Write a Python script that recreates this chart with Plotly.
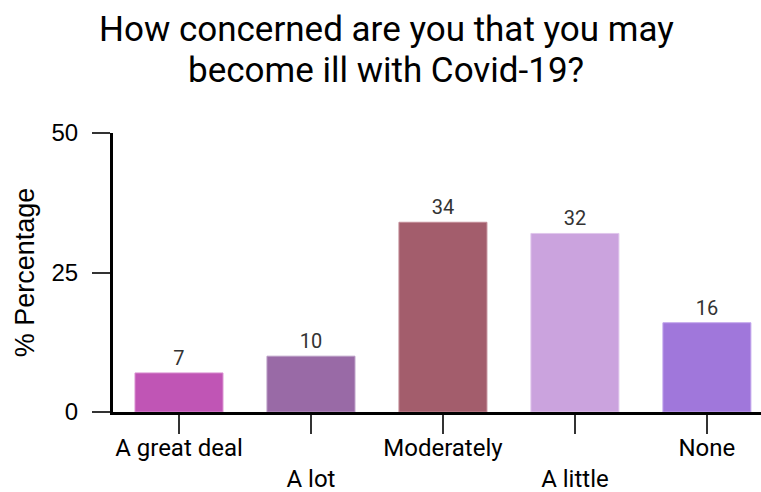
import plotly.graph_objects as go

# Survey responses
categories = ["A great deal", "A lot", "Moderately", "A little", "None"]
percentages = [7, 10, 34, 32, 16]
bar_colors = ["#C055B5", "#996AA6", "#A35D6C", "#CBA3DE", "#A077DB"]
edge_colors = ["#D98FD0", "#B99BC4", "#C38C97", "#E0C6EC", "#C2A6EC"]
# every second label is dropped to a second line to avoid overlap
tick_labels = ["A great deal", "<br>A lot", "Moderately", "<br>A little", "None"]
y_ticks = [0, 25, 50]
title_lines = ["How concerned are you that you may", "become ill with Covid-19?"]

W, H = 761, 492
M_LEFT, M_RIGHT, M_TOP, M_BOTTOM = 113, 0, 133, 80

fig = go.Figure(
    go.Bar(
        x=categories,
        y=percentages,
        marker=dict(color=bar_colors, line=dict(color=edge_colors, width=1)),
        text=[str(v) for v in percentages],
        textposition="outside",
        textfont=dict(family="Roboto", size=20, color="#333333"),
        cliponaxis=False,
    )
)

# two-line heading, one annotation per line (line centres at 29 px and 71 px from the top)
for i, line in enumerate(title_lines):
    fig.add_annotation(
        text=line,
        xref="paper",
        yref="paper",
        x=(386 - M_LEFT) / (W - M_LEFT - M_RIGHT),
        y=(H - M_BOTTOM - (29 + 42 * i)) / (H - M_TOP - M_BOTTOM),
        xanchor="center",
        yanchor="middle",
        showarrow=False,
        font=dict(family="Roboto", size=35, color="black"),
    )

fig.update_layout(
    width=W,
    height=H,
    margin=dict(l=M_LEFT, r=M_RIGHT, t=M_TOP, b=M_BOTTOM),
    paper_bgcolor="white",
    plot_bgcolor="white",
    bargap=1 / 3,
    showlegend=False,
    font=dict(family="Roboto", color="black"),
)

fig.update_xaxes(
    type="category",
    tickmode="array",
    tickvals=categories,
    ticktext=tick_labels,
    range=[-0.5, 4.41],
    automargin=False,
    showline=True,
    linecolor="black",
    linewidth=3,
    ticks="outside",
    ticklen=19,
    tickwidth=2,
    tickcolor="#333333",
    ticklabelstandoff=-7,
    tickfont=dict(family="Roboto", size=24, color="black"),
    showgrid=False,
    zeroline=False,
)

fig.update_yaxes(
    range=[0, 50],
    tickvals=y_ticks,
    automargin=False,
    showline=True,
    linecolor="black",
    linewidth=3,
    ticks="outside",
    ticklen=18,
    tickwidth=2,
    tickcolor="#333333",
    ticklabelstandoff=9,
    tickfont=dict(family="Liberation Sans", size=24, color="black"),
    title=dict(text="% Percentage", font=dict(family="Liberation Sans", size=27, color="black"), standoff=10),
    showgrid=False,
    zeroline=False,
)

fig.write_html("out.html")
